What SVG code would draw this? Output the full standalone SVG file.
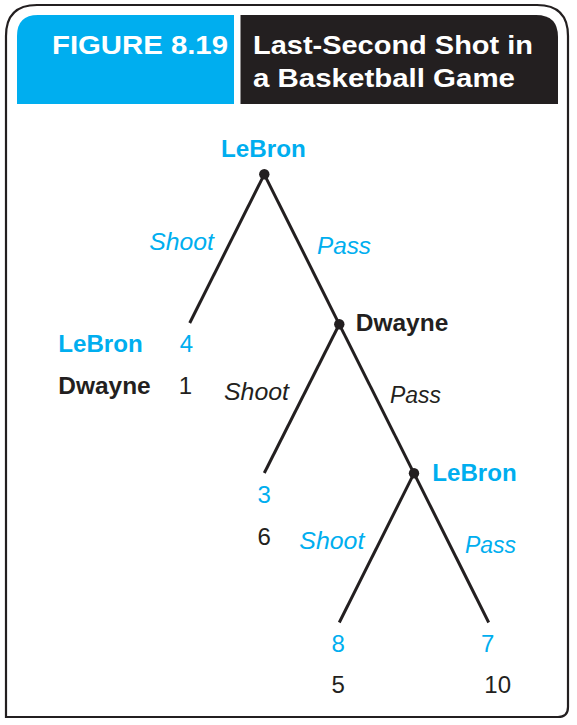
<svg xmlns="http://www.w3.org/2000/svg" width="577" height="725" viewBox="0 0 577 725">
<style>
.t{font-family:"Liberation Sans",Arial,sans-serif}
.b{font-weight:bold}
.i{font-style:italic}
.blue{fill:#00aeef}
.blk{fill:#231f20}
.wh{fill:#ffffff}
.lbl{font-size:23.5px}
.num{font-size:24px;text-anchor:middle}
.edge{stroke:#231f20;stroke-width:3;fill:none}
.dot{fill:#231f20}
</style>
<rect width="577" height="725" fill="#ffffff"/>
<g id="frame">
<path d="M6,717 L6,36 Q6,5 37,5 L537,5 Q568,5 568,36 L568,707 Q568,717 558,717 Z" fill="none" stroke="#231f20" stroke-width="2.2"/>
</g>
<g id="header">
<path d="M17,104 L17,36 Q17,15 38,15 L234,15 L234,104 Z" fill="#00aeef"/>
<path d="M240.5,104 L240.5,15 L536,15 Q558,15 558,37 L558,104 Z" fill="#231f20"/>
<text class="t b wh" x="52" y="54" font-size="26.5" textLength="176" lengthAdjust="spacingAndGlyphs">FIGURE 8.19</text>
<text class="t b wh" x="253" y="54" font-size="26.5" textLength="280" lengthAdjust="spacingAndGlyphs">Last-Second Shot in</text>
<text class="t b wh" x="253" y="87" font-size="26.5" textLength="262" lengthAdjust="spacingAndGlyphs">a Basketball Game</text>
</g>
<g id="connectors">
<line class="edge" x1="264.3" y1="174.3" x2="189.7" y2="323"/>
<line class="edge" x1="264.3" y1="174.3" x2="339.3" y2="324.3"/>
<line class="edge" x1="339.3" y1="324.3" x2="264.3" y2="473"/>
<line class="edge" x1="339.3" y1="324.3" x2="414" y2="473.3"/>
<line class="edge" x1="414" y1="473.3" x2="339.3" y2="622.5"/>
<line class="edge" x1="414" y1="473.3" x2="488.7" y2="622.5"/>
<text class="t i lbl blue" x="149.3" y="250" textLength="64.7" lengthAdjust="spacingAndGlyphs">Shoot</text>
<text class="t i lbl blue" x="317" y="254" textLength="54" lengthAdjust="spacingAndGlyphs">Pass</text>
<text class="t i lbl blk" x="224" y="400" textLength="65" lengthAdjust="spacingAndGlyphs">Shoot</text>
<text class="t i lbl blk" x="390" y="403.3" textLength="51" lengthAdjust="spacingAndGlyphs">Pass</text>
<text class="t i lbl blue" x="299.3" y="549.3" textLength="65" lengthAdjust="spacingAndGlyphs">Shoot</text>
<text class="t i lbl blue" x="465" y="553.3" textLength="51" lengthAdjust="spacingAndGlyphs">Pass</text>
</g>
<g id="node-root">
<circle class="dot" cx="264.3" cy="174.3" r="5.2"/>
<text class="t b lbl blue" x="221" y="156.7" textLength="84.7" lengthAdjust="spacingAndGlyphs">LeBron</text>
</g>
<g id="node-dwayne">
<circle class="dot" cx="339.3" cy="324.3" r="5.2"/>
<text class="t b lbl blk" x="355.7" y="331" textLength="92.6" lengthAdjust="spacingAndGlyphs">Dwayne</text>
</g>
<g id="node-lebron2">
<circle class="dot" cx="414" cy="473.3" r="5.2"/>
<text class="t b lbl blue" x="432.3" y="480.7" textLength="84.4" lengthAdjust="spacingAndGlyphs">LeBron</text>
</g>
<g id="payoff-1">
<text class="t b lbl blue" x="58.3" y="352.3" textLength="84.4" lengthAdjust="spacingAndGlyphs">LeBron</text>
<text class="t b lbl blk" x="58.3" y="394.3" textLength="92.4" lengthAdjust="spacingAndGlyphs">Dwayne</text>
<text class="t num blue" x="186.5" y="352.3">4</text>
<text class="t num blk" x="185.5" y="394.3">1</text>
</g>
<g id="payoff-2">
<text class="t num blue" x="264.2" y="502.7">3</text>
<text class="t num blk" x="264.2" y="545">6</text>
</g>
<g id="payoff-3">
<text class="t num blue" x="338.2" y="651.7">8</text>
<text class="t num blk" x="338.2" y="693.3">5</text>
</g>
<g id="payoff-4">
<text class="t num blue" x="487.8" y="651.7">7</text>
<text class="t num blk" x="497.7" y="693.3">10</text>
</g>
</svg>
